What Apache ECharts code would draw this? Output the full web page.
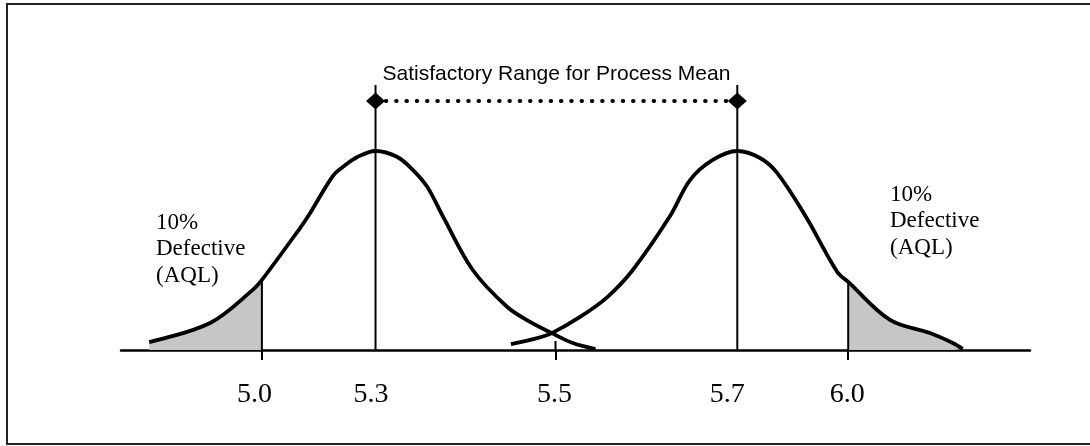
<!DOCTYPE html>
<html>
<head>
<meta charset="utf-8">
<script src="https://cdn.jsdelivr.net/npm/echarts@6/dist/echarts.min.js"></script>
<style>
  html, body { margin: 0; padding: 0; background: #fff; }
  #chart { width: 1090px; height: 446px; }
</style>
</head>
<body>
<div id="chart"></div>
<script>
// x is a schematic position along the axis (0..100), y is relative curve height (peak = 1)
const tickText = ["5.0", "5.3", "5.5", "5.7", "6.0"];
const tickPos = [15.5, 28.0, 47.8, 67.8, 80.0];
const labelPos = [14.7, 27.5, 47.7, 66.7, 79.9];
const tickMarks = [15.5, 47.8, 80.0];

const leftCurve = [
    [3.1, 0.04], [9.8, 0.136], [14.5, 0.302], [15.5, 0.352], [19.7, 0.613],
    [20.6, 0.673], [23.3, 0.874], [24.4, 0.92], [26.0, 0.97], [28.0, 1.0],
    [30.4, 0.97], [32.1, 0.905], [33.7, 0.819], [35.4, 0.673], [38.7, 0.402],
    [42.5, 0.216], [45.0, 0.141], [47.4, 0.085], [49.7, 0.035], [52.2, 0.005]
];
const rightCurve = [
    [42.9, 0.03], [45.8, 0.06], [47.4, 0.085], [50.5, 0.166], [53.5, 0.266],
    [56.3, 0.402], [60.4, 0.673], [62.6, 0.854], [65.1, 0.955], [67.8, 1.0],
    [70.3, 0.965], [72.2, 0.889], [75.3, 0.673], [78.8, 0.392],
    [80.0, 0.342], [84.6, 0.151], [89.0, 0.085], [91.5, 0.035], [92.6, 0.005]
];
const leftTail = leftCurve.slice(0, 4);
const rightTail = rightCurve.slice(14);

const meanTop = 1.332;
const rangeY = 1.251;
const titleY = 1.385;
const rangeTitle = "Satisfactory Range for Process Mean";
const aqlText = "10%\nDefective\n(AQL)";
const aqlPos = [[3.85, 0.506], [84.6, 0.648]];
const crossTickTop = 0.045;

const chart = echarts.init(document.getElementById("chart"));

const vline = (x, y0, y1, w) => ({
    type: "line",
    data: [[x, y0], [x, y1]],
    symbol: "none",
    lineStyle: { color: "#000", width: w },
    z: 3
});

const tail = data => ({
    type: "line",
    data: data,
    smooth: 0.35,
    symbol: "none",
    lineStyle: { width: 0 },
    areaStyle: { color: "#c6c6c6", opacity: 1 },
    z: 1
});

const curve = data => ({
    type: "line",
    data: data,
    smooth: 0.35,
    symbol: "none",
    lineStyle: { color: "#000", width: 3.8 },
    z: 4
});

const nearestLabel = v => {
    let best = 0;
    labelPos.forEach((p, i) => {
        if (Math.abs(p - v) < Math.abs(labelPos[best] - v)) best = i;
    });
    return tickText[best];
};

chart.setOption({
    animation: false,
    backgroundColor: "#fff",
    graphic: [
        {
            type: "rect",
            shape: { x: 7, y: 4, width: 1090, height: 440 },
            style: { fill: "none", stroke: "#222", lineWidth: 2 },
            silent: true
        }
    ],
    grid: { left: 121, right: 60, top: 51.5, bottom: 96 },
    xAxis: {
        type: "value",
        min: 0,
        max: 100,
        splitLine: { show: false },
        axisLine: { show: true, onZero: true, lineStyle: { color: "#000", width: 2.5 } },
        axisTick: {
            show: true,
            customValues: tickMarks,
            length: 10,
            lineStyle: { color: "#000", width: 2 }
        },
        axisLabel: {
            show: true,
            customValues: labelPos,
            formatter: nearestLabel,
            margin: 31,
            color: "#000",
            fontFamily: "Liberation Serif",
            fontSize: 28
        }
    },
    yAxis: {
        type: "value",
        min: 0,
        max: 1.5,
        show: false
    },
    series: [
        tail(leftTail),
        tail(rightTail),
        curve(leftCurve),
        curve(rightCurve),
        vline(tickPos[0], 0, leftTail[leftTail.length - 1][1], 2),
        vline(tickPos[4], 0, rightTail[0][1], 2),
        vline(tickPos[2], 0, crossTickTop, 2),
        vline(tickPos[1], 0, meanTop, 2),
        vline(tickPos[3], 0, meanTop, 2),
        {
            type: "line",
            data: [[tickPos[1], rangeY], [tickPos[3], rangeY]],
            symbol: "none",
            lineStyle: { color: "#000", width: 4, type: [0.5, 9.8], cap: "round" },
            z: 5
        },
        {
            type: "scatter",
            data: [[tickPos[1], rangeY], [tickPos[3], rangeY]],
            symbol: "diamond",
            symbolSize: [19, 17],
            itemStyle: { color: "#000", opacity: 1 },
            z: 6
        },
        {
            type: "scatter",
            data: [[(tickPos[1] + tickPos[3]) / 2, titleY]],
            symbolSize: 0,
            itemStyle: { opacity: 1 },
            label: {
                show: true,
                position: "inside",
                formatter: rangeTitle,
                color: "#000",
                opacity: 1,
                fontFamily: "Liberation Sans",
                fontSize: 21
            },
            z: 6
        },
        {
            type: "scatter",
            data: aqlPos,
            symbolSize: 0,
            itemStyle: { opacity: 1 },
            label: {
                show: true,
                position: "inside",
                align: "left",
                verticalAlign: "middle",
                formatter: aqlText,
                color: "#000",
                opacity: 1,
                fontFamily: "Liberation Serif",
                fontSize: 23,
                lineHeight: 26.5
            },
            z: 6
        }
    ]
});
</script>
</body>
</html>
